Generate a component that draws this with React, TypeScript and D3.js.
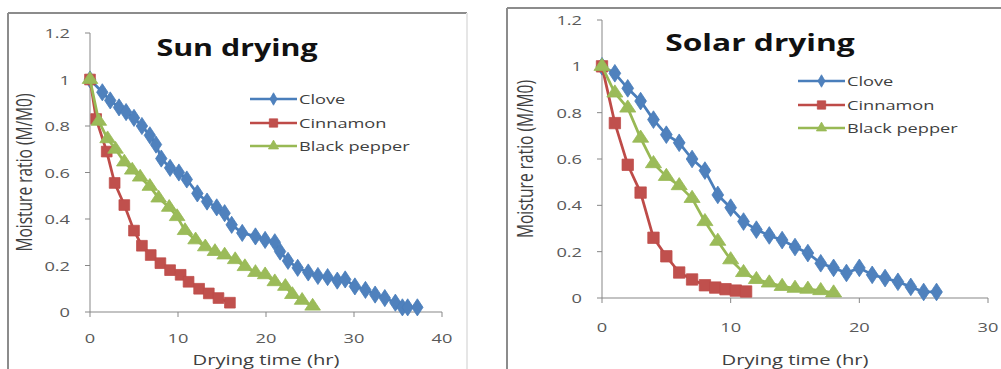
import React from "react";
import * as d3 from "d3";

// Series names shared by both panels
const seriesNames = ["Clove", "Cinnamon", "Black pepper"];

// Sun drying: drying time (hr) and moisture ratio (M/M0)
const sunCloveHours = [0, 1.4, 2.3, 3.3, 4.1, 5.0, 5.9, 6.8, 7.5, 8.1, 9.1, 10.1, 11.0, 12.2, 13.3, 14.4, 15.3, 16.1, 17.3, 18.8, 19.9, 21.0, 21.6, 22.5, 23.6, 24.8, 25.9, 27.0, 28.1, 29.0, 30.1, 31.3, 32.4, 33.5, 34.7, 35.5, 36.1, 37.2];
const sunCloveRatio = [1, 0.945, 0.91, 0.88, 0.86, 0.835, 0.8, 0.76, 0.72, 0.66, 0.62, 0.6, 0.57, 0.51, 0.475, 0.45, 0.425, 0.375, 0.34, 0.325, 0.31, 0.3, 0.26, 0.22, 0.19, 0.17, 0.155, 0.15, 0.135, 0.14, 0.11, 0.095, 0.075, 0.06, 0.04, 0.02, 0.02, 0.02];
const sunCinnamonHours = [0, 0.7, 1.9, 2.8, 3.9, 5.0, 5.9, 6.9, 8.0, 9.1, 10.3, 11.2, 12.4, 13.5, 14.6, 15.9];
const sunCinnamonRatio = [1, 0.83, 0.69, 0.555, 0.46, 0.35, 0.285, 0.245, 0.21, 0.18, 0.16, 0.13, 0.1, 0.08, 0.06, 0.04];
const sunPepperHours = [0, 1.0, 2.0, 2.9, 3.9, 4.8, 5.7, 6.8, 7.8, 9.0, 9.9, 10.8, 12.0, 13.1, 14.2, 15.3, 16.5, 17.6, 18.8, 19.9, 21.0, 22.2, 23.0, 24.1, 25.3];
const sunPepperRatio = [1, 0.82, 0.745, 0.7, 0.645, 0.61, 0.58, 0.54, 0.49, 0.45, 0.41, 0.35, 0.31, 0.28, 0.26, 0.245, 0.225, 0.195, 0.17, 0.16, 0.13, 0.11, 0.075, 0.05, 0.025];

// Solar drying
const solarCloveHours = [0, 1, 2, 3, 4, 5, 6, 7, 8, 9, 10, 11, 12, 13, 14, 15, 16, 17, 18, 19, 20, 21, 22, 23, 24, 25, 26];
const solarCloveRatio = [1, 0.97, 0.905, 0.85, 0.77, 0.705, 0.67, 0.6, 0.55, 0.445, 0.39, 0.33, 0.295, 0.27, 0.25, 0.22, 0.194, 0.15, 0.13, 0.108, 0.13, 0.1, 0.086, 0.07, 0.048, 0.026, 0.026];
const solarCinnamonHours = [0, 1, 2, 3, 4, 5, 6, 7, 8, 8.8, 9.6, 10.4, 11.2];
const solarCinnamonRatio = [1, 0.755, 0.575, 0.455, 0.26, 0.18, 0.11, 0.08, 0.055, 0.045, 0.038, 0.032, 0.028];
const solarPepperHours = [0, 1, 2, 3, 4, 5, 6, 7, 8, 9, 10, 11, 12, 13, 14, 15, 16, 17, 18];
const solarPepperRatio = [1, 0.885, 0.82, 0.69, 0.58, 0.525, 0.485, 0.43, 0.33, 0.245, 0.165, 0.11, 0.08, 0.065, 0.05, 0.042, 0.038, 0.032, 0.022];

const yTicks = [0, 0.2, 0.4, 0.6, 0.8, 1, 1.2];
const sunXTicks = [0, 10, 20, 30, 40];
const solarXTicks = [0, 10, 20, 30];

const COLORS = {
  line: ["#4A7EBB", "#BE4B48", "#98B954"],
  fill: ["#4F81BD", "#C0504D", "#9BBB59"],
};
const SYMBOLS = [d3.symbolDiamond, d3.symbolSquare, d3.symbolTriangle];
const FONT = "'Open Sans', 'DejaVu Sans', sans-serif";
const SX = 1.35; // horizontal glyph stretch

type Panel = {
  title: string;
  frame: { x: number; y: number; w: number };
  xRange: [number, number];
  yRange: [number, number];
  xDomain: [number, number];
  xTicks: number[];
  series: { hours: number[]; ratio: number[] }[];
  titlePos: [number, number];
  titleSize: number;
  legend: { x0: number; x1: number; ys: number[] };
  xLabelOffset: number;
  yTitleX: number;
  xTitleY: number;
  markerSize: number[];
};

const panels: Panel[] = [
  {
    title: "Sun drying",
    frame: { x: 8, y: 13, w: 459 },
    xRange: [90, 442],
    yRange: [312, 33],
    xDomain: [0, 40],
    xTicks: sunXTicks,
    series: [
      { hours: sunCloveHours, ratio: sunCloveRatio },
      { hours: sunCinnamonHours, ratio: sunCinnamonRatio },
      { hours: sunPepperHours, ratio: sunPepperRatio },
    ],
    titlePos: [237, 56],
    titleSize: 22.5,
    legend: { x0: 250, x1: 297, ys: [99, 123, 146] },
    xLabelOffset: 31,
    yTitleX: 27,
    xTitleY: 365,
    markerSize: [85, 115, 80],
  },
  {
    title: "Solar drying",
    frame: { x: 507, y: 8, w: 500 },
    xRange: [602, 988],
    yRange: [298, 20],
    xDomain: [0, 30],
    xTicks: solarXTicks,
    series: [
      { hours: solarCloveHours, ratio: solarCloveRatio },
      { hours: solarCinnamonHours, ratio: solarCinnamonRatio },
      { hours: solarPepperHours, ratio: solarPepperRatio },
    ],
    titlePos: [760, 51],
    titleSize: 23.5,
    legend: { x0: 798, x1: 845, ys: [81, 105, 128] },
    xLabelOffset: 34,
    yTitleX: 528,
    xTitleY: 365,
    markerSize: [90, 130, 85],
  },
];

function ChartPanel({ p }: { p: Panel }) {
  const x = d3.scaleLinear().domain(p.xDomain).range(p.xRange);
  const y = d3.scaleLinear().domain([0, 1.2]).range(p.yRange);
  const line = d3
    .line<[number, number]>()
    .x((d) => x(d[0]))
    .y((d) => y(d[1]));
  const axisColor = "#878787";
  const labelColor = "#595959";
  const plotMidY = (p.yRange[0] + p.yRange[1]) / 2;
  const plotMidX = (p.xRange[0] + p.xRange[1]) / 2;

  return (
    <g>
      {/* chart frame */}
      <line x1={p.frame.x} y1={p.frame.y} x2={p.frame.x + p.frame.w} y2={p.frame.y} stroke="#8c8c8c" strokeWidth={2} />
      <line x1={p.frame.x} y1={p.frame.y} x2={p.frame.x} y2={400} stroke="#8c8c8c" strokeWidth={2} />
      <line x1={p.frame.x + p.frame.w} y1={p.frame.y} x2={p.frame.x + p.frame.w} y2={400} stroke="#e6e6e6" strokeWidth={2} />

      {/* y axis */}
      <line x1={p.xRange[0]} y1={y(0)} x2={p.xRange[0]} y2={y(1.2)} stroke={axisColor} strokeWidth={1} />
      {yTicks.map((t) => (
        <g key={"y" + t}>
          <line x1={p.xRange[0] - 5} x2={p.xRange[0]} y1={y(t)} y2={y(t)} stroke={axisColor} />
          <text
            transform={`translate(${p.xRange[0] - 20},${y(t) + 5}) scale(${SX},1)`}
            textAnchor="end"
            fontSize={13.5}
            fontFamily={FONT}
            fill={labelColor}
          >
            {String(t)}
          </text>
        </g>
      ))}

      {/* x axis */}
      <line x1={p.xRange[0]} y1={y(0)} x2={p.xRange[1]} y2={y(0)} stroke={axisColor} strokeWidth={1} />
      {p.xTicks.map((t) => (
        <g key={"x" + t}>
          <line x1={x(t)} x2={x(t)} y1={y(0)} y2={y(0) + 5} stroke={axisColor} />
          <text
            transform={`translate(${x(t)},${y(0) + p.xLabelOffset}) scale(${SX},1)`}
            textAnchor="middle"
            fontSize={13.5}
            fontFamily={FONT}
            fill={labelColor}
          >
            {String(t)}
          </text>
        </g>
      ))}

      {/* axis titles */}
      <text
        transform={`translate(${plotMidX},${p.xTitleY}) scale(${SX},1)`}
        textAnchor="middle"
        fontSize={15}
        fontFamily={FONT}
        fill="#404040"
      >
        Drying time (hr)
      </text>
      <text
        transform={`translate(${p.yTitleX + 5},${plotMidY}) scale(${SX},1) rotate(-90)`}
        textAnchor="middle"
        fontSize={15.5}
        fontFamily={FONT}
        fill="#404040"
      >
        Moisture ratio (M/M0)
      </text>

      {/* title */}
      <text
        transform={`translate(${p.titlePos[0]},${p.titlePos[1]}) scale(${SX},1)`}
        textAnchor="middle"
        fontSize={p.titleSize}
        fontWeight="bold"
        fontFamily={FONT}
        fill="#111"
      >
        {p.title}
      </text>

      {/* series */}
      {p.series.map((s, i) => {
        const pts: [number, number][] = s.hours.map((h, k) => [h, s.ratio[k]]);
        const sym = d3.symbol().type(SYMBOLS[i]).size(p.markerSize[i])();
        return (
          <g key={"s" + i}>
            <path d={line(pts) || ""} fill="none" stroke={COLORS.line[i]} strokeWidth={2.75} strokeLinejoin="round" />
            {pts.map((d, k) => (
              <path
                key={k}
                d={sym || ""}
                transform={`translate(${x(d[0])},${y(d[1])}) scale(${i === 1 ? 1 : 1.15},1)`}
                fill={COLORS.fill[i]}
                stroke={COLORS.line[i]}
                strokeWidth={0.75}
              />
            ))}
          </g>
        );
      })}

      {/* legend */}
      {seriesNames.map((name, i) => {
        const ly = p.legend.ys[i];
        const mx = (p.legend.x0 + p.legend.x1) / 2;
        const sym = d3.symbol().type(SYMBOLS[i]).size(i === 1 ? 70 : 45)();
        return (
          <g key={"l" + i}>
            <line x1={p.legend.x0} x2={p.legend.x1} y1={ly} y2={ly} stroke={COLORS.line[i]} strokeWidth={2.5} />
            <path d={sym || ""} transform={`translate(${mx},${ly})`} fill={COLORS.fill[i]} stroke={COLORS.line[i]} strokeWidth={0.75} />
            <text
              transform={`translate(${p.legend.x1 + 2},${ly + 5}) scale(${SX},1)`}
              fontSize={13.5}
              fontFamily={FONT}
              fill="#404040"
            >
              {name}
            </text>
          </g>
        );
      })}
    </g>
  );
}

export default function App() {
  return (
    <svg
      width={1001}
      height={369}
      style={{ position: "absolute", left: 0, top: 0, display: "block", background: "#fff" }}
    >
      <rect width={1001} height={369} fill="#fff" />
      {panels.map((p, i) => (
        <ChartPanel key={i} p={p} />
      ))}
    </svg>
  );
}
